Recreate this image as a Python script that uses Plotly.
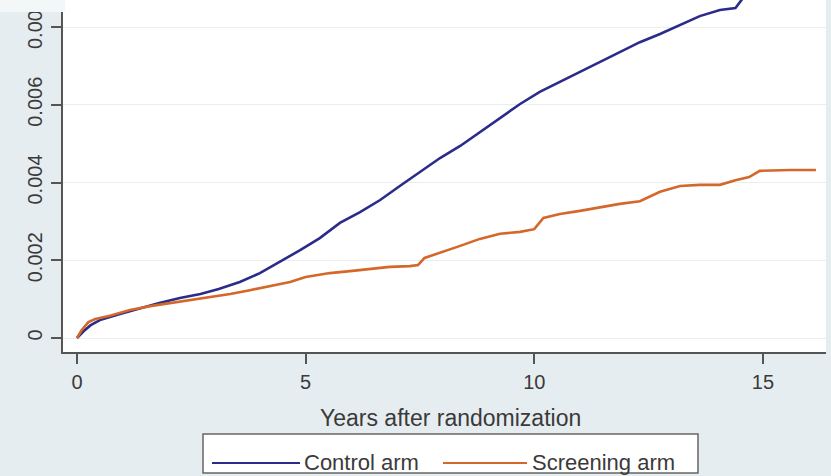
import plotly.graph_objects as go

# ---- data ----
control_years = [0.0, 0.15, 0.3, 0.5, 0.94, 1.38, 1.8, 2.25, 2.7, 3.1, 3.56, 4.0, 4.44, 4.88,
                 5.31, 5.75, 6.19, 6.63, 7.06, 7.5, 7.94, 8.38, 8.81, 9.25, 9.69, 10.12,
                 10.56, 11.0, 11.44, 11.87, 12.31, 12.75, 13.19, 13.62, 14.06, 14.4, 14.6]
control_cum = [0.0, 0.00018, 0.00033, 0.00046, 0.00062, 0.00077, 0.0009, 0.00103, 0.00113,
               0.00126, 0.00144, 0.00167, 0.00196, 0.00226, 0.00257, 0.00296, 0.00324,
               0.00355, 0.00391, 0.00427, 0.00463, 0.00494, 0.0053, 0.00566, 0.00602,
               0.00633, 0.00659, 0.00684, 0.0071, 0.00736, 0.00761, 0.00782, 0.00805,
               0.00828, 0.00844, 0.00849, 0.0088]

screen_years = [0.0, 0.1, 0.25, 0.4, 0.72, 1.16, 1.6, 2.03, 2.47, 2.9, 3.35, 3.78, 4.22, 4.66,
                5.0, 5.53, 5.97, 6.4, 6.84, 7.28, 7.46, 7.6, 7.94, 8.38, 8.81, 9.25, 9.69,
                10.0, 10.2, 10.56, 11.0, 11.44, 11.87, 12.31, 12.75, 13.19, 13.62, 14.06,
                14.4, 14.7, 14.93, 15.6, 16.16]
screen_cum = [0.0, 0.0002, 0.00041, 0.00049, 0.00057, 0.00072, 0.00082, 0.0009, 0.00098,
              0.00105, 0.00113, 0.00123, 0.00134, 0.00144, 0.00157, 0.00167, 0.00172,
              0.00177, 0.00183, 0.00185, 0.00188, 0.00206, 0.00219, 0.00237, 0.00255,
              0.00268, 0.00273, 0.0028, 0.00309, 0.00319, 0.00327, 0.00337, 0.00345,
              0.00352, 0.00376, 0.00391, 0.00394, 0.00394, 0.00406, 0.00414, 0.0043,
              0.00432, 0.00432]

series_names = ["Control arm", "Screening arm"]
x_ticks = [0, 5, 10, 15]
y_ticks = [0, 0.002, 0.004, 0.006, 0.008]
y_tick_labels = ["0", "0.002", "0.004", "0.006", "0.008"]
x_title = "Years after randomization"

BLUE = "#2b2b8a"
ORANGE = "#d4672a"
BG = "#e6edf0"
AX = "#555555"
TXT = "#3a3a3a"
FONT = "Liberation Sans, Arial, sans-serif"

W, H = 831, 476
L, R, T, B = 63, 5, 0, 124
PW, PH = W - L - R, H - T - B


def px(xp):
    return (xp - L) / PW


def py(yp):
    return (H - B - yp) / PH


fig = go.Figure()
fig.add_trace(go.Scatter(x=control_years, y=control_cum, mode="lines", name=series_names[0],
                         line=dict(color=BLUE, width=2.6), showlegend=False))
fig.add_trace(go.Scatter(x=screen_years, y=screen_cum, mode="lines", name=series_names[1],
                         line=dict(color=ORANGE, width=2.6), showlegend=False))

fig.update_layout(
    width=W, height=H,
    margin=dict(l=L, r=R, t=T, b=B),
    paper_bgcolor=BG, plot_bgcolor="white",
    font=dict(family=FONT, color=TXT),
    xaxis=dict(range=[-0.306, 16.38], tickvals=x_ticks, showgrid=False, zeroline=False,
               showline=True, linecolor=AX, linewidth=1.5, ticks="outside", ticklen=10,
               tickwidth=1.5, tickcolor=AX, tickfont=dict(size=20, color=TXT),
               ticklabelstandoff=1),
    yaxis=dict(range=[-0.00036, 0.008695], tickvals=y_ticks, ticktext=y_tick_labels,
               showgrid=True, gridcolor="#e9eef0", gridwidth=1, zeroline=False,
               showline=True, linecolor=AX, linewidth=1.5, ticks="outside", ticklen=10,
               tickwidth=1.5, tickcolor=AX, tickangle=-90, tickfont=dict(size=20, color=TXT),
               ticklabelstandoff=1, ticklabeloverflow="allow"),
    showlegend=False,
)

# x-axis title
fig.add_annotation(text=x_title, xref="paper", yref="paper", x=px(450), y=py(418),
                   xanchor="center", yanchor="middle", showarrow=False,
                   font=dict(size=23, color=TXT, family=FONT))

# manual legend (long line samples like the reference)
fig.add_shape(type="rect", xref="paper", yref="paper", x0=px(203), x1=px(698),
              y0=py(473), y1=py(434), line=dict(color="#666666", width=1.5),
              fillcolor="white", layer="below")
legend_items = [(212, 300, 302, BLUE, series_names[0]), (443, 527, 530, ORANGE, series_names[1])]
for x0, x1, xt, col, name in legend_items:
    fig.add_shape(type="line", xref="paper", yref="paper", x0=px(x0), x1=px(x1),
                  y0=py(463), y1=py(463), line=dict(color=col, width=2))
    fig.add_annotation(text=name, xref="paper", yref="paper", x=px(xt), y=py(462),
                       xanchor="left", yanchor="middle", showarrow=False,
                       font=dict(size=22, color=TXT, family=FONT))

# light band at the top of the left margin (cropped edge in the reference)
fig.add_shape(type="rect", xref="paper", yref="paper", x0=px(0), x1=px(65),
              y0=py(12), y1=py(0), line=dict(width=0), fillcolor="#f4f7f8", layer="above")

fig.write_html("out.html")
